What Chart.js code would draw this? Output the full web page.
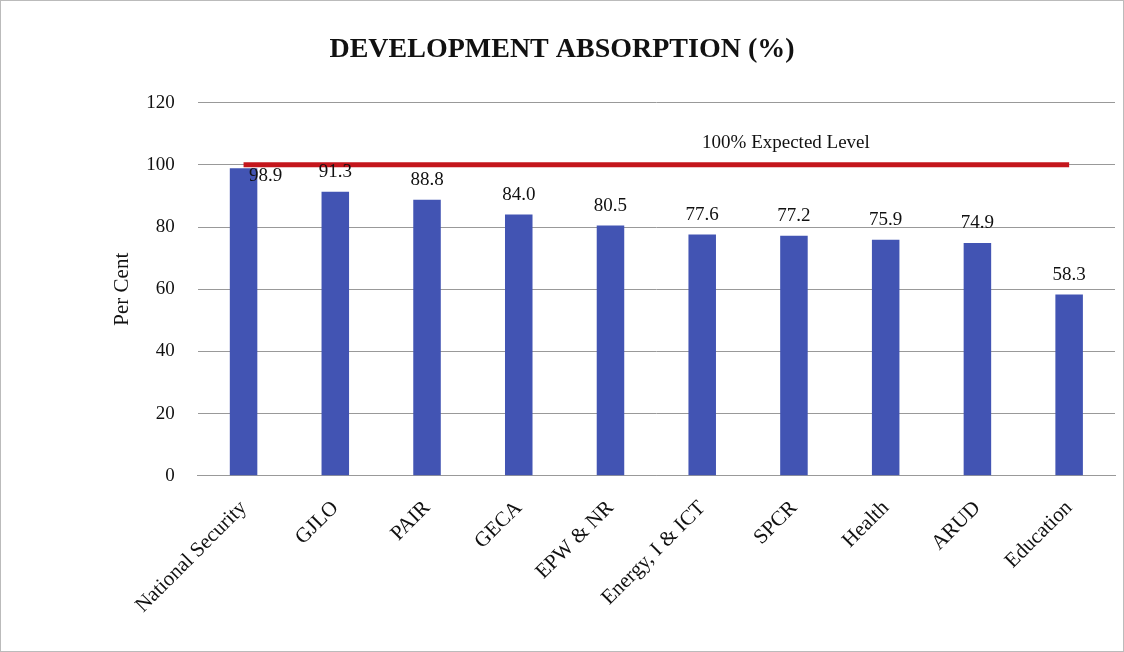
<!DOCTYPE html>
<html>
<head>
<meta charset="utf-8">
<script src="https://cdn.jsdelivr.net/npm/chart.js@4.4.0/dist/chart.umd.min.js"></script>
<style>
  html, body { margin: 0; padding: 0; background: #fff; }
  #wrap { position: relative; width: 1124px; height: 652px; box-sizing: border-box; border: 1px solid #bbb; }
</style>
</head>
<body>
<div id="wrap"><canvas id="absorption-chart"></canvas></div>
<script>
// chart data
let sectors = ['National Security', 'GJLO', 'PAIR', 'GECA', 'EPW & NR', 'Energy, I & ICT', 'SPCR', 'Health', 'ARUD', 'Education'];
let absorption = [98.9, 91.3, 88.8, 84.0, 80.5, 77.6, 77.2, 75.9, 74.9, 58.3];
let expectedLevel = [100, 100, 100, 100, 100, 100, 100, 100, 100, 100];
let expectedLabel = '100% Expected Level';
let yTicks = [0, 20, 40, 60, 80, 100, 120];

let serif = '"Liberation Serif", "DejaVu Serif", serif';

// draws value labels over bars and the text over the red line
let labelPlugin = {
	id: 'labels',
	afterDatasetsDraw(chart) {
		let ctx = chart.ctx;
		ctx.save();
		ctx.fillStyle = '#111';
		ctx.font = '19px ' + serif;
		ctx.textAlign = 'center';
		ctx.textBaseline = 'bottom';
		let bars = chart.getDatasetMeta(0).data;
		bars.forEach(function(bar, i) {
			let x = bar.x;
			if (i == 0) x += 22;
			ctx.fillText(absorption[i].toFixed(1), x, bar.y - (i == 0 ? -17 : 10));
		});
		let pts = chart.getDatasetMeta(1).data;
		let p = pts[6];
		ctx.fillText(expectedLabel, p.x - 8, p.y - 12);
		ctx.restore();
	}
};

let contex = document.querySelector('#absorption-chart').getContext('2d');

let absorptionChart = new Chart(contex, {
	data: {
		labels: sectors,
		datasets: [
			{
				type: 'bar',
				label: 'Absorption',
				data: absorption,
				backgroundColor: '#4254b3',
				barPercentage: 0.3,
				categoryPercentage: 1,
				order: 2
			},
			{
				type: 'line',
				label: 'Expected Level',
				data: expectedLevel,
				borderColor: '#c4161c',
				borderWidth: 5,
				pointRadius: 0,
				order: 1
			}
		]
	},
	options: {
		responsive: true,
		maintainAspectRatio: false,
		animation: false,
		layout: { padding: { left: 8, right: 8, top: 10, bottom: 21 } },
		plugins: {
			legend: { display: false },
			tooltip: { enabled: false },
			title: {
				display: true,
				text: 'DEVELOPMENT ABSORPTION (%)',
				color: '#111',
				font: { family: serif, size: 28, weight: 'bold' },
				padding: { top: 22, bottom: 36 }
			}
		},
		scales: {
			x: {
				grid: { display: false },
				border: { color: '#999', width: 1 },
				ticks: {
					color: '#111',
					font: { family: serif, size: 21 },
					minRotation: 45,
					maxRotation: 45,
					padding: 12
				}
			},
			y: {
				min: 0,
				max: 120,
				afterBuildTicks: function(axis) {
					axis.ticks = yTicks.map(function(v) { return { value: v }; });
				},
				grid: { color: '#999', drawTicks: true, tickLength: 12, tickColor: 'rgba(0,0,0,0)' },
				border: { display: false },
				ticks: {
					color: '#111',
					font: { family: serif, size: 19 },
					padding: 11
				},
				title: {
					display: true,
					text: 'Per Cent',
					color: '#111',
					font: { family: serif, size: 21 },
					padding: { top: 101, bottom: 0 }
				}
			}
		}
	},
	plugins: [labelPlugin]
});
</script>
</body>
</html>
